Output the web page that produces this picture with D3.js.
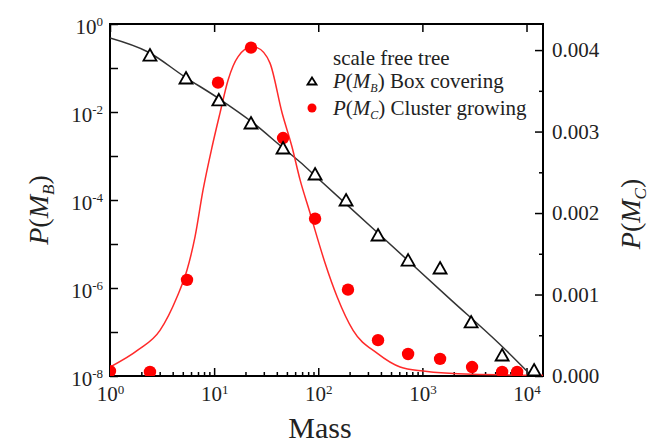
<!DOCTYPE html>
<html>
<head>
<meta charset="utf-8">
<script src="https://cdnjs.cloudflare.com/ajax/libs/d3/7.8.5/d3.min.js"></script>
<style>
body { margin: 0; background: #fff; }
svg text { font-family: "Liberation Serif", "Times New Roman", serif; }
.axis path { display: none; }
.axis line { stroke: #000; stroke-width: 1.5; }
.axis text { fill: #222; }
</style>
</head>
<body>
<div id="chart"></div>
<script>
// box covering, left log axis
var massB = [2.42, 5.37, 11.1, 22.6, 45.9, 93.2, 185, 375, 729, 1479, 2938, 5832, 11830];
var probB = [0.197, 0.0593, 0.0188, 0.00562, 0.00152, 3.9e-4, 1.0e-4, 1.6e-5, 4.3e-6, 2.85e-6, 1.69e-7, 3.0e-8, 1.37e-8];

// cluster growing, right linear axis
var massC = [1, 2.42, 5.49, 10.9, 22.6, 45.9, 93.2, 193, 375, 729, 1479, 3000, 5832, 8128];
var probC = [0.00006, 0.00005, 0.00118, 0.00360, 0.00403, 0.00292, 0.00193, 0.00106, 0.00044, 0.00027, 0.00021, 0.00011, 0.00005, 0.00005];

// fitted curves
var fitMassB = [1, 2.32, 5.25, 10.9, 23.1, 45.9, 66.8, 97.3, 367, 1846, 5572, 14400];
var fitProbB = [0.481, 0.231, 0.0624, 0.0208, 0.00593, 0.00152, 7.3e-4, 3.24e-4, 1.85e-5, 5.6e-7, 5.2e-8, 5.5e-9];
var fitMassC = [1, 1.86, 3.02, 4.40, 5.49, 6.56, 7.82, 9.55, 11.4, 13.6, 17.0, 23.1, 25.8, 34.4, 44.9, 56.0, 66.8, 83.4, 93.1, 116, 152, 216, 367, 611, 1016, 3000, 14400];
var fitProbC = [0.00011, 0.00032, 0.00056, 0.00097, 0.00130, 0.00171, 0.00228, 0.00281, 0.00323, 0.00363, 0.00392, 0.00404, 0.00403, 0.00384, 0.00323, 0.00281, 0.00241, 0.00200, 0.00179, 0.00139, 0.00097, 0.00056, 0.00028, 0.00011, 0.00006, 0.00002, 0.00001];

var massTicks = [1, 10, 100, 1000, 10000];
var probBTicks = [1, 1e-1, 1e-2, 1e-3, 1e-4, 1e-5, 1e-6, 1e-7, 1e-8];
var probCTicks = [0, 0.001, 0.002, 0.003, 0.004];
var probCMinor = [0.0005, 0.0015, 0.0025, 0.0035];
var legendTitle = "scale free tree";
var legendLabels = ["Box covering", "Cluster growing"];

var margin = {top: 24, right: 120, bottom: 72, left: 110},
    width = 663 - margin.left - margin.right,
    height = 448 - margin.top - margin.bottom;

var x = d3.scaleLog().domain([1, 14400]).range([0, width]);
var yLeft = d3.scaleLog().domain([1e-8, 1]).range([height, 0]);
var yRight = d3.scaleLinear().domain([0, 0.00432]).range([height, 0]);

var svg = d3.select("#chart").append("svg")
    .attr("width", width + margin.left + margin.right)
    .attr("height", height + margin.top + margin.bottom)
  .append("g")
    .attr("transform", "translate(" + margin.left + "," + margin.top + ")");

svg.append("clipPath").attr("id", "plot")
  .append("rect").attr("width", width).attr("height", height);

function powerLabel(text) {
  text.each(function(d) {
    var e = Math.round(Math.log10(d));
    var t = d3.select(this).text(null);
    t.append("tspan").text("10");
    t.append("tspan").attr("dy", "-0.6em").attr("font-size", "13px").text(e);
  });
}

var minorMass = [];
massTicks.forEach(function(m) {
  for (var k = 2; k < 10; k++) if (m * k <= 14400) minorMass.push(m * k);
});

// bottom axis
var bottom = svg.append("g")
    .attr("class", "axis")
    .attr("transform", "translate(0," + height + ")")
    .call(d3.axisBottom(x).tickValues(massTicks).tickSizeInner(-8).tickSizeOuter(0).tickPadding(9).tickFormat(function() { return ""; }));
bottom.selectAll("text").attr("font-size", "21px").attr("dy", "0.78em").call(powerLabel);

svg.append("g")
    .attr("class", "axis")
    .attr("transform", "translate(0," + height + ")")
    .call(d3.axisBottom(x).tickValues(minorMass).tickSizeInner(-4).tickSizeOuter(0).tickFormat(""));

svg.append("g")
    .attr("class", "axis")
    .call(d3.axisTop(x).tickValues(massTicks).tickSizeInner(-8).tickSizeOuter(0).tickFormat(""));

// left axis
var left = svg.append("g")
    .attr("class", "axis")
    .call(d3.axisLeft(yLeft).tickValues(probBTicks).tickSizeInner(-8).tickSizeOuter(0).tickPadding(7).tickFormat(function() { return ""; }));
left.selectAll("text")
    .filter(function(d) { return Math.round(Math.log10(d)) % 2 == 0; })
    .attr("font-size", "21px").attr("dy", "0.45em").call(powerLabel);

// right axis
var right = svg.append("g")
    .attr("class", "axis")
    .attr("transform", "translate(" + width + ",0)")
    .call(d3.axisRight(yRight).tickValues(probCTicks).tickSizeInner(-8).tickSizeOuter(0).tickPadding(9).tickFormat(d3.format(".3f")));
right.selectAll("text").attr("font-size", "21px");

svg.append("g")
    .attr("class", "axis")
    .attr("transform", "translate(" + width + ",0)")
    .call(d3.axisRight(yRight).tickValues(probCMinor).tickSizeInner(-4).tickSizeOuter(0).tickFormat(""));

// frame
svg.append("rect")
    .attr("width", width).attr("height", height)
    .attr("fill", "none").attr("stroke", "#000").attr("stroke-width", 2);

var plot = svg.append("g").attr("clip-path", "url(#plot)");

var lineB = d3.line()
    .x(function(d) { return x(d[0]); })
    .y(function(d) { return yLeft(d[1]); })
    .curve(d3.curveMonotoneX);
var lineC = d3.line()
    .x(function(d) { return x(d[0]); })
    .y(function(d) { return yRight(d[1]); })
    .curve(d3.curveMonotoneX);

plot.append("path")
    .datum(d3.zip(fitMassB, fitProbB))
    .attr("d", lineB)
    .attr("fill", "none").attr("stroke", "#333").attr("stroke-width", 1.5);

plot.append("path")
    .datum(d3.zip(fitMassC, fitProbC))
    .attr("d", lineC)
    .attr("fill", "none").attr("stroke", "#ff2a2a").attr("stroke-width", 1.5);

plot.selectAll(".dotC")
    .data(d3.zip(massC, probC))
  .enter().append("circle")
    .attr("class", "dotC")
    .attr("cx", function(d) { return x(d[0]); })
    .attr("cy", function(d) { return yRight(d[1]); })
    .attr("r", 6.2)
    .attr("fill", "#ff0000");

plot.selectAll(".triB")
    .data(d3.zip(massB, probB))
  .enter().append("path")
    .attr("class", "triB")
    .attr("transform", function(d) { return "translate(" + x(d[0]) + "," + yLeft(d[1]) + ")"; })
    .attr("d", "M0,-6L6.5,5.5L-6.5,5.5Z")
    .attr("fill", "#fff").attr("stroke", "#000").attr("stroke-width", 1.8);

// legend
var legend = svg.append("g").attr("transform", "translate(223,41)").attr("font-size", "21px").attr("fill", "#222");
legend.append("text").attr("x", 0).attr("y", 0).text(legendTitle);

legend.append("path")
    .attr("transform", "translate(-21,16)")
    .attr("d", "M0,-3.5L4.5,3.5L-4.5,3.5Z")
    .attr("fill", "#fff").attr("stroke", "#000").attr("stroke-width", 1.8);
legend.append("circle")
    .attr("cx", -21).attr("cy", 43).attr("r", 4.5).attr("fill", "#ff0000");

["B", "C"].forEach(function(s, i) {
  var t = legend.append("text").attr("x", 0).attr("y", 23 + i * 27);
  t.append("tspan").attr("font-style", "italic").text("P");
  t.append("tspan").text("(");
  t.append("tspan").attr("font-style", "italic").text("M");
  t.append("tspan").attr("font-style", "italic").attr("font-size", "12px").attr("dy", "4").text(s);
  t.append("tspan").attr("dy", "-4").text(")");
  t.append("tspan").text(" " + legendLabels[i]);
});

// axis titles
svg.append("text")
    .attr("x", 210).attr("y", height + 62)
    .attr("text-anchor", "middle")
    .attr("font-size", "30px").attr("fill", "#222")
    .text("Mass");

function probTitle(g, sub) {
  g.attr("text-anchor", "middle").attr("font-size", "28px").attr("fill", "#222");
  g.append("tspan").attr("font-style", "italic").text("P");
  g.append("tspan").text("(");
  g.append("tspan").attr("font-style", "italic").text("M");
  g.append("tspan").attr("font-style", "italic").attr("font-size", "17px").attr("dy", "6").text(sub);
  g.append("tspan").attr("dy", "-6").text(")");
}

svg.append("text")
    .attr("transform", "translate(-62,186) rotate(-90)")
    .call(probTitle, "B");

svg.append("text")
    .attr("transform", "translate(" + (width + 97) + ",190) rotate(-90)")
    .call(probTitle, "C");
</script>
</body>
</html>
